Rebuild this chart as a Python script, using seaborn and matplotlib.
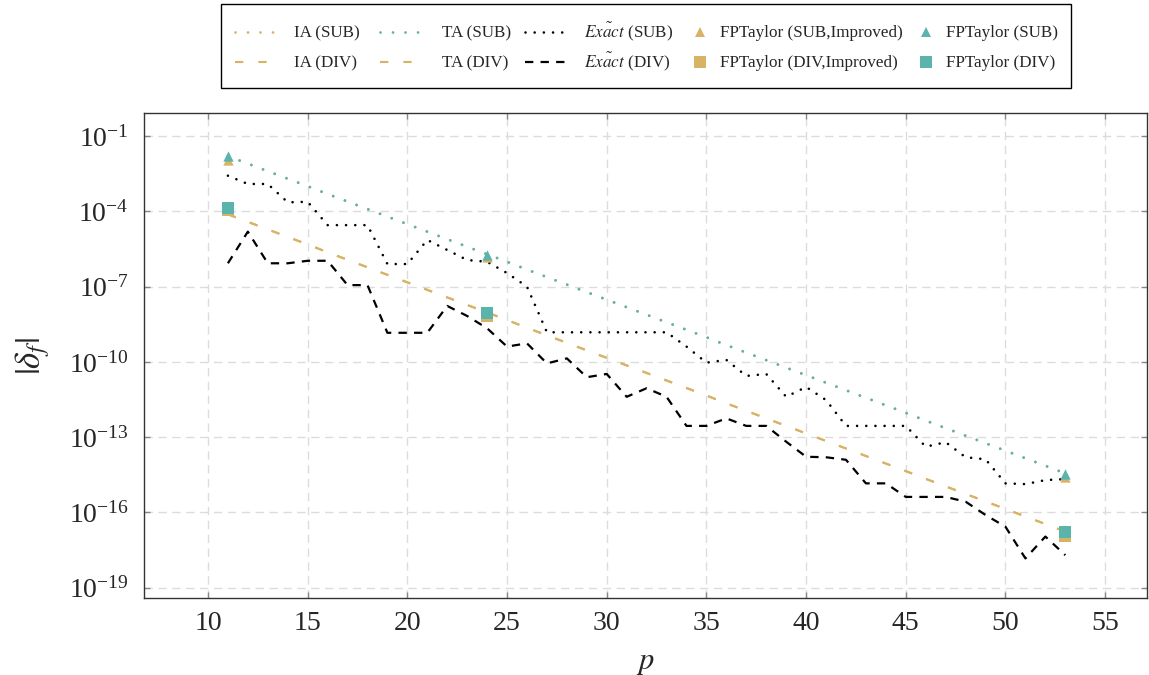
import numpy as np
import pandas as pd
import matplotlib
matplotlib.use("Agg")
import matplotlib.pyplot as plt
import seaborn as sns
from matplotlib.patches import Rectangle
from matplotlib.ticker import FixedLocator, LogFormatterSciNotation, NullLocator

# precision p (number of significand bits)
precision = list(range(11, 54))

# log10 of the error bounds, one value per precision
ta_sub_log10 = [-1.80, -2.10, -2.40, -2.70, -3.00, -3.31, -3.61, -3.91, -4.21, -4.51,
                -4.81, -5.11, -5.41, -5.71, -6.01, -6.32, -6.62, -6.92, -7.22, -7.52,
                -7.82, -8.12, -8.42, -8.72, -9.02, -9.33, -9.63, -9.93, -10.23, -10.53,
                -10.83, -11.13, -11.43, -11.73, -12.03, -12.34, -12.64, -12.94, -13.24, -13.54,
                -13.84, -14.14, -14.44]
ia_sub_log10 = list(ta_sub_log10)

ia_div_log10 = [-4.12, -4.42, -4.72, -5.02, -5.32, -5.63, -5.93, -6.23, -6.53, -6.83,
                -7.13, -7.43, -7.73, -8.03, -8.33, -8.64, -8.94, -9.24, -9.54, -9.84,
                -10.14, -10.44, -10.74, -11.04, -11.34, -11.65, -11.95, -12.25, -12.55, -12.85,
                -13.15, -13.45, -13.75, -14.05, -14.35, -14.66, -14.96, -15.26, -15.56, -15.86,
                -16.16, -16.46, -16.76]
ta_div_log10 = list(ia_div_log10)

exact_sub_log10 = [-2.58, -2.91, -2.91, -3.64, -3.62, -4.55, -4.55, -4.55, -6.10, -6.10,
                   -5.14, -5.54, -5.94, -6.01, -6.46, -7.00, -8.82, -8.82, -8.82, -8.82,
                   -8.82, -8.82, -8.82, -9.39, -10.03, -9.92, -10.56, -10.48, -11.39, -11.00,
                   -11.52, -12.55, -12.55, -12.55, -12.55, -13.38, -13.20, -13.80, -13.88, -14.84,
                   -14.87, -14.71, -14.67]

exact_div_log10 = [-6.07, -4.81, -6.07, -6.07, -5.97, -5.97, -6.94, -6.94, -8.84, -8.84,
                   -8.84, -7.77, -8.17, -8.66, -9.39, -9.26, -10.06, -9.86, -10.61, -10.48,
                   -11.39, -11.05, -11.39, -12.55, -12.55, -12.25, -12.55, -12.55, -13.18, -13.78,
                   -13.80, -13.90, -14.84, -14.84, -15.38, -15.38, -15.38, -15.57, -16.10, -16.57,
                   -17.83, -16.96, -17.70]

# FPTaylor results at selected precisions
fpt_precision = [11, 24, 53]
fpt_sub_log10 = [-1.80, -5.73, -14.47]
fpt_sub_improved_log10 = [-1.94, -5.83, -14.57]
fpt_div_log10 = [-3.88, -8.04, -16.78]
fpt_div_improved_log10 = [-3.96, -8.19, -16.93]

y_tick_exponents = [-1, -4, -7, -10, -13, -16, -19]
x_ticks = [10, 15, 20, 25, 30, 35, 40, 45, 50, 55]

YELLOW = "#d8b365"
TEAL = "#5ab4ac"
W, H = 1149, 675

sns.set_theme(style="white")
plt.rcParams["font.family"] = ["Liberation Serif", "DejaVu Serif"]
plt.rcParams["mathtext.fontset"] = "stix"
plt.rcParams["lines.scale_dashes"] = False

lines = pd.DataFrame({
    "p": precision,
    "IA (SUB)": np.power(10.0, ia_sub_log10),
    "TA (SUB)": np.power(10.0, ta_sub_log10),
    "IA (DIV)": np.power(10.0, ia_div_log10),
    "TA (DIV)": np.power(10.0, ta_div_log10),
    "Exact (SUB)": np.power(10.0, exact_sub_log10),
    "Exact (DIV)": np.power(10.0, exact_div_log10),
})
fpt = pd.DataFrame({
    "p": fpt_precision,
    "sub": np.power(10.0, fpt_sub_log10),
    "sub_imp": np.power(10.0, fpt_sub_improved_log10),
    "div": np.power(10.0, fpt_div_log10),
    "div_imp": np.power(10.0, fpt_div_improved_log10),
})

fig = plt.figure(figsize=(W / 100, H / 100), dpi=100)
ax = fig.add_axes([0.1253, 0.114, 0.873, 0.7185])

# line styles (dash lengths in points)
sty = {
    "IA (SUB)": dict(color=YELLOW, lw=2.0, linestyle=(0, (0.01, 9.0)), dash_capstyle="round"),
    "TA (SUB)": dict(color=TEAL, lw=2.0, linestyle=(0, (0.01, 9.0)), dash_capstyle="round"),
    "IA (DIV)": dict(color=YELLOW, lw=1.5, linestyle=(0, (6.0, 10.8))),
    "TA (DIV)": dict(color=YELLOW, lw=1.5, linestyle=(0, (6.0, 10.8))),
    "Exact (SUB)": dict(color="black", lw=1.9, linestyle=(0, (0.01, 6.6)), dash_capstyle="round"),
    "Exact (DIV)": dict(color="black", lw=1.6, linestyle=(0, (6.0, 5.2))),
}
for name in ["IA (SUB)", "IA (DIV)", "TA (SUB)", "TA (DIV)", "Exact (SUB)", "Exact (DIV)"]:
    sns.lineplot(data=lines, x="p", y=name, ax=ax, **sty[name])

TRI_S, SQ_S = 55, 72
sns.scatterplot(data=fpt, x="p", y="sub_imp", ax=ax, marker="^", s=TRI_S, color=YELLOW,
                linewidth=0, zorder=5)
sns.scatterplot(data=fpt, x="p", y="div_imp", ax=ax, marker="s", s=SQ_S, color=YELLOW,
                linewidth=0, zorder=5)
sns.scatterplot(data=fpt, x="p", y="sub", ax=ax, marker="^", s=TRI_S, color=TEAL,
                linewidth=0, zorder=6)
sns.scatterplot(data=fpt, x="p", y="div", ax=ax, marker="s", s=SQ_S, color=TEAL,
                linewidth=0, zorder=6)

ax.set_yscale("log")
ax.set_xlim(6.79, 57.1)
ax.set_ylim(10 ** -19.41, 10 ** -0.084)
ax.xaxis.set_major_locator(FixedLocator(x_ticks))
ax.yaxis.set_major_locator(FixedLocator([10.0 ** e for e in y_tick_exponents]))
ax.yaxis.set_major_formatter(LogFormatterSciNotation())
ax.yaxis.set_minor_locator(NullLocator())

ax.grid(True, which="major", color="#dcdcdc", linestyle=(0, (6, 4)), lw=1.0)
ax.set_axisbelow(True)
for sp in ax.spines.values():
    sp.set_color("#333333")
    sp.set_linewidth(1.0)
ax.tick_params(axis="both", which="major", direction="in", length=4, width=1.0,
               color="#888888", labelsize=20, top=True, right=True,
               bottom=True, left=True)
ax.tick_params(axis="x", pad=9)
ax.tick_params(axis="y", pad=11)

ax.set_xlabel(r"$p$", fontsize=22, labelpad=9)
ax.set_ylabel(r"$|\delta_f|$", fontsize=25, labelpad=12)

# legend box drawn on a full-figure overlay in pixel units
lax = fig.add_axes([0, 0, 1, 1], zorder=10)
lax.set_xlim(0, W)
lax.set_ylim(H, 0)
lax.axis("off")
lax.patch.set_alpha(0)
lax.add_patch(Rectangle((221, 4), 850, 84, facecolor="white", edgecolor="black", lw=1.0))

row_y = [32, 62]
FS = 12.3
line_cols = [
    (235, 273, 294, [("IA (SUB)", "IA (SUB)"), ("IA (DIV)", "IA (DIV)")]),
    (380, 419, 442, [("TA (SUB)", "TA (SUB)"), ("TA (DIV)", "TA (DIV)")]),
    (525, 570, 584, [("Exact (SUB)", r"$\tilde{Exact}$ (SUB)"),
                     ("Exact (DIV)", r"$\tilde{Exact}$ (DIV)")]),
]
for x0, x1, xt, entries in line_cols:
    for (key, text), y in zip(entries, row_y):
        lax.plot([x0, x1], [y, y], **sty[key])
        lax.text(xt, y + 5, text, fontsize=FS, va="baseline", ha="left")

marker_cols = [
    (700, 720, YELLOW, ["FPTaylor (SUB,Improved)", "FPTaylor (DIV,Improved)"]),
    (926, 946, TEAL, ["FPTaylor (SUB)", "FPTaylor (DIV)"]),
]
for xm, xt, col, texts in marker_cols:
    for mk, ms, text, y in zip(["^", "s"], [7.0, 8.0], texts, row_y):
        lax.plot([xm], [y], marker=mk, ms=ms, color=col, mew=0, ls="none")
        lax.text(xt, y + 5, text, fontsize=FS, va="baseline", ha="left")

fig.savefig("out.png", dpi=100)
